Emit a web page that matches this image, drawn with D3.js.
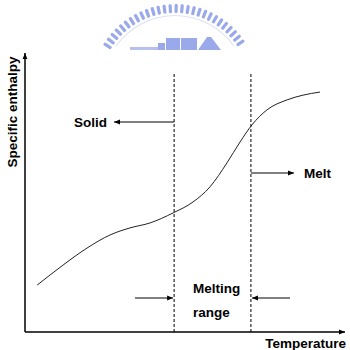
<!DOCTYPE html>
<html>
<head>
<meta charset="utf-8">
<script src="https://cdn.jsdelivr.net/npm/d3@7"></script>
<style>
  body { margin: 0; background: #fff; }
  text { font-family: "Liberation Sans", Arial, sans-serif; font-weight: bold; font-size: 13.5px; fill: #000; }
</style>
</head>
<body>
<div id="chart"></div>
<script>
// curve (arbitrary units, 0-100)
var temperature = [3.8, 11.9, 19.4, 26.6, 32.8, 39.1, 46.3, 52.5, 57.8, 63.1, 67.2, 70.9, 75.6, 81.9, 86.9, 92.2];
var enthalpy    = [16.8, 24.0, 30.1, 34.8, 37.3, 39.1, 42.7, 46.6, 52.0, 60.6, 68.1, 74.2, 79.6, 83.2, 84.9, 86.0];

// melting range boundaries
var meltStart = 46.6;
var meltEnd = 70.6;

var width = 350;
var height = 350;

var svg = d3.select("#chart")
  .append("svg")
  .attr("width", width)
  .attr("height", height);

var xScale = d3.scaleLinear().domain([0, 100]).range([25, 345]);
var yScale = d3.scaleLinear().domain([0, 100]).range([332, 53]);

// arrow heads
var defs = svg.append("defs");
defs.append("marker")
  .attr("id", "head")
  .attr("viewBox", "0 0 10 10")
  .attr("refX", 10)
  .attr("refY", 5)
  .attr("markerWidth", 6)
  .attr("markerHeight", 6)
  .attr("markerUnits", "userSpaceOnUse")
  .attr("orient", "auto")
  .append("path")
  .attr("d", "M0,1 L10,5 L0,9 Z")
  .attr("fill", "#000");

// faint logo watermark at the top
var logo = svg.append("g").attr("fill", "#9aa9ea").attr("stroke", "none");
var angles = d3.range(-148, -31, 4.2);
logo.selectAll("rect.tick")
  .data(angles)
  .enter()
  .append("rect")
  .attr("class", "tick")
  .attr("x", -1.6)
  .attr("y", -84)
  .attr("width", 3.2)
  .attr("height", 9)
  .attr("rx", 1.3)
  .attr("transform", function(a) { return "translate(175,88) rotate(" + (a + 90) + ")"; });
logo.append("path")
  .attr("d", d3.arc()({ innerRadius: 72, outerRadius: 72.8, startAngle: -0.95, endAngle: 0.95 }))
  .attr("transform", "translate(175,88)")
  .attr("fill", "#d3d9f5");
logo.append("rect").attr("x", 130).attr("y", 47).attr("width", 28).attr("height", 3).attr("fill", "#b6c0f0");
logo.append("rect").attr("x", 158).attr("y", 43).attr("width", 7).attr("height", 7);
logo.append("rect").attr("x", 166).attr("y", 38).attr("width", 14).attr("height", 12);
logo.append("rect").attr("x", 181).attr("y", 38).attr("width", 16).attr("height", 12);
logo.append("path").attr("d", "M198,50 L207,37 L211,37 L221,50 Z");

// axes
svg.append("line")
  .attr("x1", xScale(0)).attr("y1", yScale(0))
  .attr("x2", xScale(0)).attr("y2", yScale(100))
  .attr("stroke", "#000").attr("stroke-width", 1.5)
  .attr("marker-end", "url(#head)");
svg.append("line")
  .attr("x1", xScale(0)).attr("y1", yScale(0))
  .attr("x2", xScale(100)).attr("y2", yScale(0))
  .attr("stroke", "#000").attr("stroke-width", 1.5)
  .attr("marker-end", "url(#head)");

svg.append("text")
  .attr("transform", "translate(17," + 112 + ") rotate(-90)")
  .attr("text-anchor", "middle")
  .text("Specific enthalpy");

svg.append("text")
  .attr("x", 346)
  .attr("y", 348)
  .attr("text-anchor", "end")
  .text("Temperature");

// dashed melting range lines
svg.selectAll("line.range")
  .data([meltStart, meltEnd])
  .enter()
  .append("line")
  .attr("class", "range")
  .attr("x1", function(d) { return xScale(d); })
  .attr("x2", function(d) { return xScale(d); })
  .attr("y1", 74)
  .attr("y2", yScale(0))
  .attr("stroke", "#000")
  .attr("stroke-width", 1)
  .attr("stroke-dasharray", "3,2");

// the enthalpy curve
var line = d3.line()
  .x(function(d, i) { return xScale(temperature[i]); })
  .y(function(d) { return yScale(d); })
  .curve(d3.curveMonotoneX);

svg.append("path")
  .datum(enthalpy)
  .attr("d", line)
  .attr("fill", "none")
  .attr("stroke", "#222")
  .attr("stroke-width", 1);

// annotations
function arrow(x1, y1, x2, y2) {
  svg.append("line")
    .attr("x1", x1).attr("y1", y1)
    .attr("x2", x2).attr("y2", y2)
    .attr("stroke", "#000").attr("stroke-width", 1)
    .attr("marker-end", "url(#head)");
}

arrow(xScale(meltStart), 122, 114, 122);
svg.append("text").attr("x", 74).attr("y", 127).text("Solid");

arrow(xScale(meltEnd), 173, 294, 173);
svg.append("text").attr("x", 304).attr("y", 178).text("Melt");

arrow(135, 298, xScale(meltStart) - 1, 298);
arrow(290, 298, xScale(meltEnd) + 1, 298);
svg.append("text").attr("x", 193).attr("y", 293).text("Melting");
svg.append("text").attr("x", 193).attr("y", 317).text("range");
</script>
</body>
</html>
